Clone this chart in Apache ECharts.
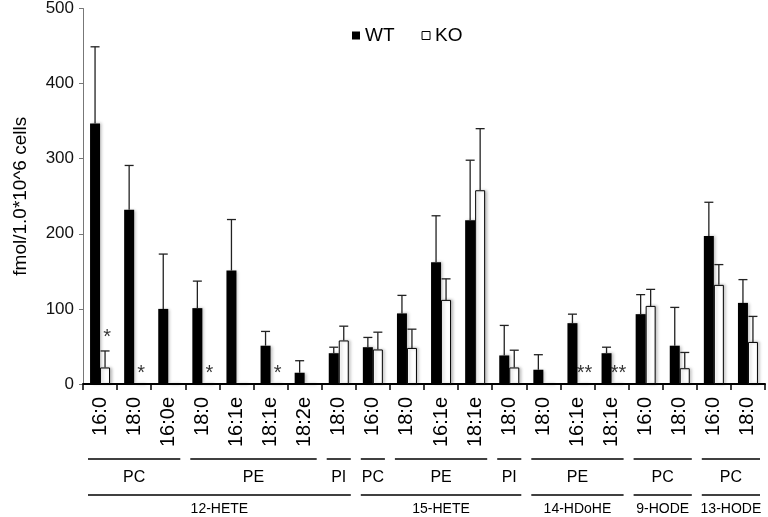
<!DOCTYPE html>
<html>
<head>
<meta charset="utf-8">
<script src="https://cdn.jsdelivr.net/npm/echarts@6/dist/echarts.min.js"></script>
<style>html,body{margin:0;padding:0;background:#fff}#c{width:768px;height:517px}</style>
</head>
<body>
<div id="c"></div>
<script>
const categories = ['16:0','18:0','16:0e','18:0','16:1e','18:1e','18:2e','18:0','16:0','18:0','16:1e','18:1e','18:0','18:0','16:1e','18:1e','16:0','18:0','16:0','18:0'];
const wtValues = [347,232,100,101,151,51,15,41,49,94,162,218,38,19,81,41,93,51,197,108];
const wtErrTop = [449,291,173,137,219,70,31,49,62,118,224,298,78,39,93,49,119,102,242,139];
const koValues = [22,0,0,0,0,0,0,58,46,48,112,258,22,0,0,0,104,21,132,56];
const koErrTop = [44,null,null,null,null,null,null,77,69,73,140,340,45,null,null,null,126,42,159,90];
const koStars = ['*','*','','*','','*','','','','','','','','','**','**','','','',''];
const koStarLevel = [62,14,null,14,null,14,null,null,null,null,null,null,null,null,14,14,null,null,null,null];
const subGroupNames = ['PC','PE','PI','PC','PE','PI','PE','PC','PC'];
const subGroupSizes = [3,4,1,1,3,1,3,2,2];
const mainGroupNames = ['12-HETE','15-HETE','14-HDoHE','9-HODE','13-HODE'];
const mainGroupSizes = [8,5,3,2,2];

const FONT = 'Liberation Sans, Arial, Helvetica, sans-serif';
const chart = echarts.init(document.getElementById('c'), null, {renderer:'canvas'});

function errSeries(name, vals, tops, dx) {
  const data = [];
  vals.forEach((v,i)=>{ if (tops[i] != null) data.push([i, v, tops[i]]); });
  return {
    type: 'custom', name: name + ' err', z: 5, silent: true,
    data: data,
    renderItem: function(params, api) {
      const i = api.value(0);
      const p0 = api.coord([i, api.value(1)]);
      const p1 = api.coord([i, api.value(2)]);
      const x = p0[0] + dx;
      const cap = 4.5;
      return {
        type: 'group',
        children: [
          {type:'line', shape:{x1:x,y1:p0[1],x2:x,y2:p1[1]}, style:{stroke:'#222',lineWidth:1.3}},
          {type:'line', shape:{x1:x-cap,y1:p1[1],x2:x+cap,y2:p1[1]}, style:{stroke:'#222',lineWidth:1.3}}
        ]
      };
    }
  };
}

const starData = [];
koStarLevel.forEach((v,i)=>{ if (v != null) starData.push({value:[i, v], label:{formatter: koStars[i]}}); });

const option = {
  animation: false,
  backgroundColor: '#fff',
  textStyle: {fontFamily: FONT},
  grid: {left: 83, right: 3, top: 6, bottom: 133, containLabel: false},
  legend: {
    data: [
      {name:'WT', icon:'rect', itemStyle:{color:'#000'}},
      {name:'KO', icon:'rect', itemStyle:{color:'#fff', borderColor:'#000', borderWidth:1}}
    ],
    left: 347, top: 21, itemWidth: 8, itemHeight: 8, itemGap: 27,
    textStyle: {fontSize: 19, color: '#000', fontFamily: FONT}
  },
  xAxis: {
    type: 'category', data: categories,
    axisLine: {lineStyle: {color:'#000', width: 2}},
    axisTick: {show: true, length: 6, lineStyle:{color:'#000', width:1.5}},
    axisLabel: {rotate: 90, fontSize: 20, color: '#000', margin: 13, fontFamily: FONT, interval: 0}
  },
  yAxis: {
    type: 'value', min: 0, max: 500, interval: 100,
    name: 'fmol/1.0*10^6 cells', nameLocation: 'middle', nameGap: 53,
    nameTextStyle: {fontSize: 19, color: '#000', fontFamily: FONT},
    axisLine: {show: true, lineStyle: {color:'#777', width: 1}},
    axisTick: {show: true, length: 4, lineStyle:{color:'#777'}},
    splitLine: {show: false},
    axisLabel: {fontSize: 17, color: '#111', margin: 9, fontFamily: FONT}
  },
  series: [
    {name:'WT', type:'bar', data: wtValues, barWidth: 10, barGap: '0%',
     itemStyle:{color:'#000', shadowColor:'rgba(0,0,0,0.25)', shadowBlur:3, shadowOffsetX:2}},
    {name:'KO', type:'bar', data: koValues, barWidth: 10, barGap: '0%',
     itemStyle:{color:'#fff', borderColor:'#000', borderWidth:1, shadowColor:'rgba(0,0,0,0.25)', shadowBlur:3, shadowOffsetX:2}},
    errSeries('WT', wtValues, wtErrTop, -5),
    errSeries('KO', koValues, koErrTop, 5),
    {type:'scatter', name:'stars', symbolSize: 0, z: 6, silent: true, data: starData,
     label:{show:true, position:'inside', offset:[7,0], fontSize:20, color:'#000', fontFamily: FONT}}
  ]
};
chart.setOption(option);

function drawGroups() {
  const cx = i => chart.convertToPixel({xAxisIndex:0}, i);
  const half = (cx(1) - cx(0)) / 2;
  const axisY = chart.convertToPixel({yAxisIndex:0}, 0);
  const inset = 5;
  const els = [];
  function level(names, sizes, lineDy, textDy, fontSize) {
    let start = 0;
    names.forEach((n, k) => {
      const end = start + sizes[k] - 1;
      const x1 = cx(start) - half + inset, x2 = cx(end) + half - inset;
      els.push({type:'line', shape:{x1:x1, y1:axisY+lineDy, x2:x2, y2:axisY+lineDy}, style:{stroke:'#000', lineWidth:1.5}});
      els.push({type:'text', x:(x1+x2)/2, y:axisY+textDy, style:{text:n, fill:'#000', fontSize:fontSize, fontFamily:FONT, align:'center', verticalAlign:'middle'}});
      start = end + 1;
    });
  }
  level(subGroupNames, subGroupSizes, 75, 94, 16);
  level(mainGroupNames, mainGroupSizes, 111, 125, 14);
  chart.setOption({graphic: els});
}
drawGroups();
</script>
</body>
</html>
